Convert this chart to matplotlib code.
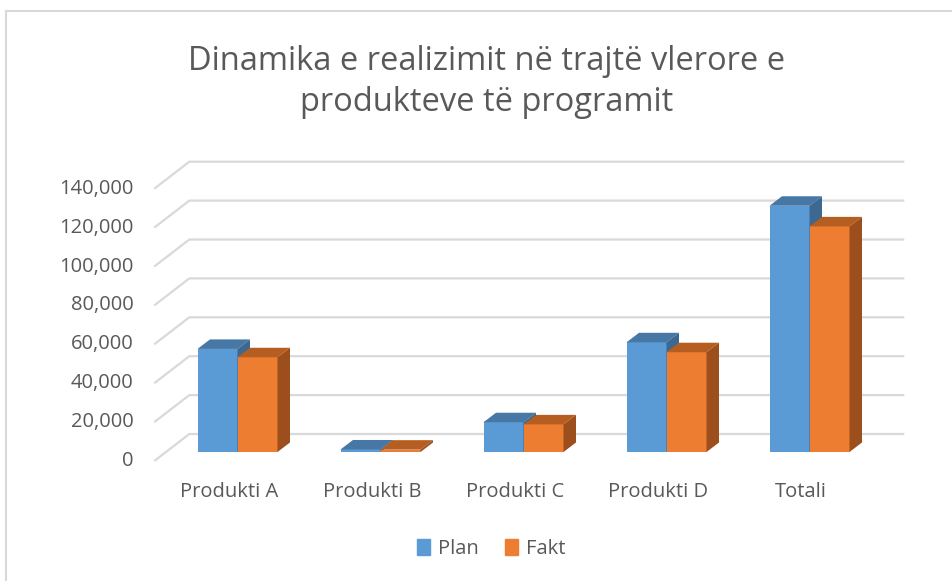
import matplotlib.pyplot as plt
from matplotlib.patches import Polygon, Rectangle
from matplotlib.lines import Line2D

categories = ['Produkti A', 'Produkti B', 'Produkti C', 'Produkti D', 'Totali']
plan = [53000, 1300, 15300, 56400, 126600]
fakt = [48700, 1200, 14200, 51300, 116000]
series_names = ['Plan', 'Fakt']
yticks = [0, 20000, 40000, 60000, 80000, 100000, 120000, 140000]

title = 'Dinamika e realizimit në trajtë vlerore e\nprodukteve të programit'

W, H = 952, 581
fig = plt.figure(figsize=(W / 100, H / 100), dpi=100)
plt.rcParams['font.family'] = ['Open Sans', 'DejaVu Sans']

# axes placed in pixels, data plane = front face of the bars
ax_l, ax_r, ax_t, ax_b = 150, 910, 150, 465
ax = fig.add_axes([ax_l / W, 1 - ax_b / H, (ax_r - ax_l) / W, (ax_b - ax_t) / H])
ax.axis('off')

px_per_cat = 143.0
px_per_val = 38.9 / 20000
x0_px = 237.5   # centre of first bar pair
y0_px = 452.0   # floor of the bars
ax.set_xlim((ax_l - x0_px) / px_per_cat, (ax_r - x0_px) / px_per_cat)
ax.set_ylim((y0_px - ax_b) / px_per_val, (y0_px - ax_t) / px_per_val)

def dx(p):
    return p / px_per_cat

def dy(p):
    return p / px_per_val

# oblique offsets (pixels -> data)
back = (dx(23.3), dy(18))
front = (dx(-11.7), dy(-9))
depth = (dx(12.5), dy(9.5))

txt_c = '#595959'
grid_c = '#d9d9d9'
fs = 14.5
left, right = -0.5, len(categories) - 0.5
for v in yticks:
    xs = [left + front[0], left + back[0], right + back[0]]
    ys = [v + front[1], v + back[1], v + back[1]]
    ax.plot(xs, ys, color=grid_c, lw=1.6, zorder=1, solid_capstyle='butt')
    ax.annotate(f'{v:,}', (left + front[0], v + front[1]), xytext=(-21, 0),
                textcoords='offset pixels', ha='right', va='center',
                fontsize=fs, color=txt_c, annotation_clip=False)

colors = {
    'Plan': ('#5b9bd5', '#4677a5', '#3c6891'),
    'Fakt': ('#ed7d31', '#b65d22', '#9c4e1c'),
}
bw = 40 / px_per_cat
for i, cat in enumerate(categories):
    for k, (name, vals) in enumerate(zip(series_names, [plan, fakt])):
        fc, tc, sc = colors[name]
        x = i - bw + k * bw
        v = vals[i]
        z = 3 + i * 2 + k
        ax.bar(x, v, width=bw, align='edge', color=fc, zorder=z, lw=0)
        top = [(x, v), (x + bw, v), (x + bw + depth[0], v + depth[1]), (x + depth[0], v + depth[1])]
        side = [(x + bw, 0), (x + bw + depth[0], depth[1]), (x + bw + depth[0], v + depth[1]), (x + bw, v)]
        ax.add_patch(Polygon(top, closed=True, color=tc, lw=0, zorder=z))
        ax.add_patch(Polygon(side, closed=True, color=sc, lw=0, zorder=z))
    ax.annotate(cat, (i + front[0], front[1]), xytext=(3, -31), textcoords='offset pixels',
                ha='center', va='center', fontsize=fs, color=txt_c,
                annotation_clip=False)

fig.text(487 / W, 1 - 82 / H, title, ha='center', va='center', fontsize=23.5,
         color=txt_c, linespacing=1.32)

handles = [Rectangle((0, 0), 1, 1, color=colors[n][0]) for n in series_names]
fig.legend(handles, series_names, loc='center', bbox_to_anchor=(491 / W, 1 - 549 / H),
           ncol=2, frameon=False, fontsize=fs, handlelength=0.65, handleheight=0.85,
           handletextpad=0.4, columnspacing=1.3, labelcolor=txt_c)

# chart border (only top and left are visible in the crop)
fig.add_artist(Line2D([6 / W, 6 / W], [0, 1 - 11 / H], color=grid_c, lw=1.5))
fig.add_artist(Line2D([6 / W, 1], [1 - 11 / H, 1 - 11 / H], color=grid_c, lw=1.5))

fig.savefig('out.png', dpi=100)
